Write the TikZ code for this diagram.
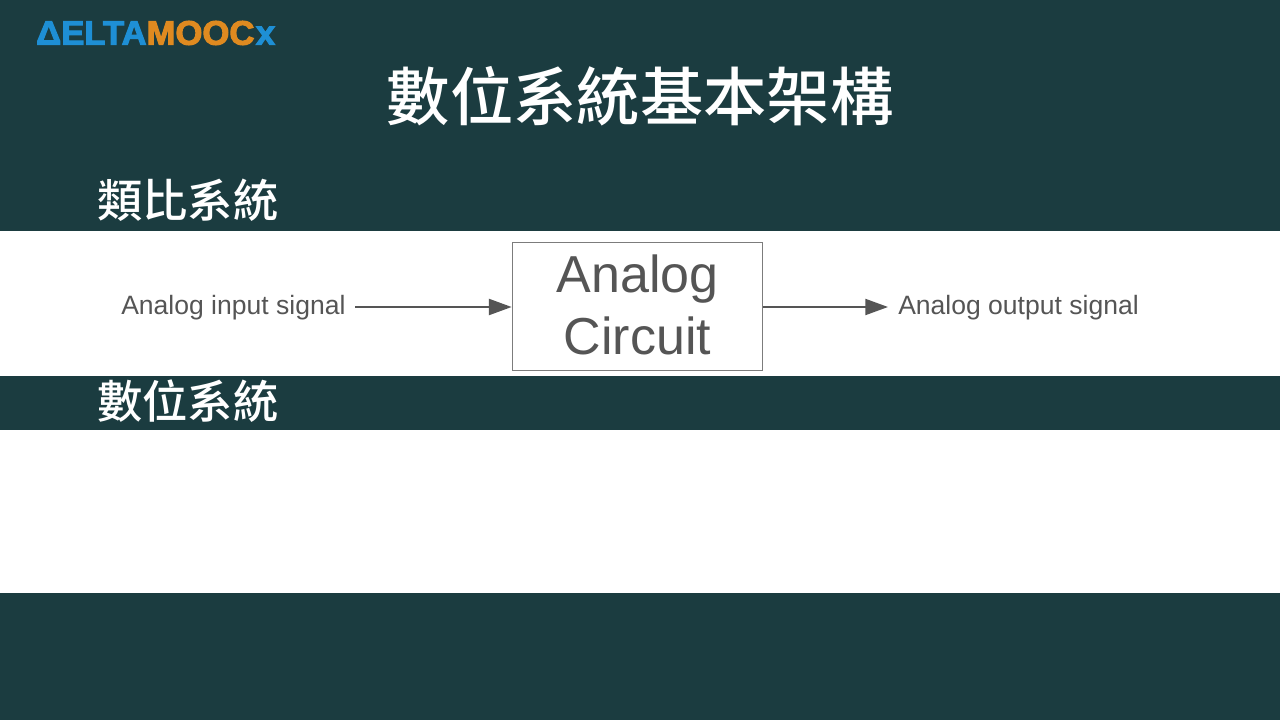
\documentclass[tikz,border=0pt]{standalone}
\usepackage{fontspec}
\usetikzlibrary{arrows.meta}
\setmainfont{Liberation Sans}
\newfontfamily\cjk{Noto Sans CJK TC Medium}
\newfontfamily\logofont[FakeBold=3]{Liberation Sans Bold}
\definecolor{bg}{HTML}{1B3C40}
\definecolor{ink}{HTML}{555555}
\definecolor{edge}{HTML}{7C7C7C}
\definecolor{lblue}{HTML}{1E8FD5}
\definecolor{lorange}{HTML}{DF8A20}
\tikzset{
 band/.style={fill=white,draw=none},
 headline/.style={text=white,font=\cjk\fontsize{47.5}{47.5}\selectfont,inner sep=0pt},
 subhead/.style={text=white,font=\cjk\fontsize{34}{34}\selectfont,inner sep=0pt},
 sig/.style={text=ink,font=\fontsize{19.9}{19.9}\selectfont,inner sep=0pt},
 flow/.style={draw=ink,line width=1.5pt,-{Triangle[length=17pt,width=12pt]}},
 boxn/.style={draw=edge,line width=1.3pt,fill=white,minimum width=187.5pt,minimum height=96pt,inner sep=0pt,align=center,text=ink,font=\fontsize{39}{47}\selectfont}
}
\begin{document}
\begin{tikzpicture}[x=0.75pt,y=-0.75pt]
\useasboundingbox (0,0) rectangle (1280,720);
\fill[bg] (0,0) rectangle (1280,720);
\fill[band] (0,231) rectangle (1280,376);
\fill[band] (0,430) rectangle (1280,593);
\node[anchor=west,inner sep=0pt,xscale=1.02,font=\logofont\fontsize{25.5}{25.5}\selectfont] (logo) at (36,33) {\textcolor{lblue}{ΔELTA}\textcolor{lorange}{MOOC}\kern1pt\textcolor{lblue}{x}};
\node[headline] (title) at (640,96) {數位系統基本架構};
\node[subhead,anchor=west] (h1) at (97,200) {類比系統};
\node[subhead,anchor=west] (h2) at (97,401) {數位系統};
\node[boxn] (box) at (637.5,306.5) {Analog\\Circuit\\[-44pt]\mbox{}};
\node[sig,anchor=west] (in) at (121,307.5) {Analog input signal};
\node[sig,anchor=west] (out) at (898,307.5) {Analog output signal};
\coordinate (ia) at (355,307);
\coordinate (oa) at (888,307);
\draw[flow] (ia) -- (ia -| box.west);
\draw[flow] (oa -| box.east) -- (oa);
\end{tikzpicture}
\end{document}
